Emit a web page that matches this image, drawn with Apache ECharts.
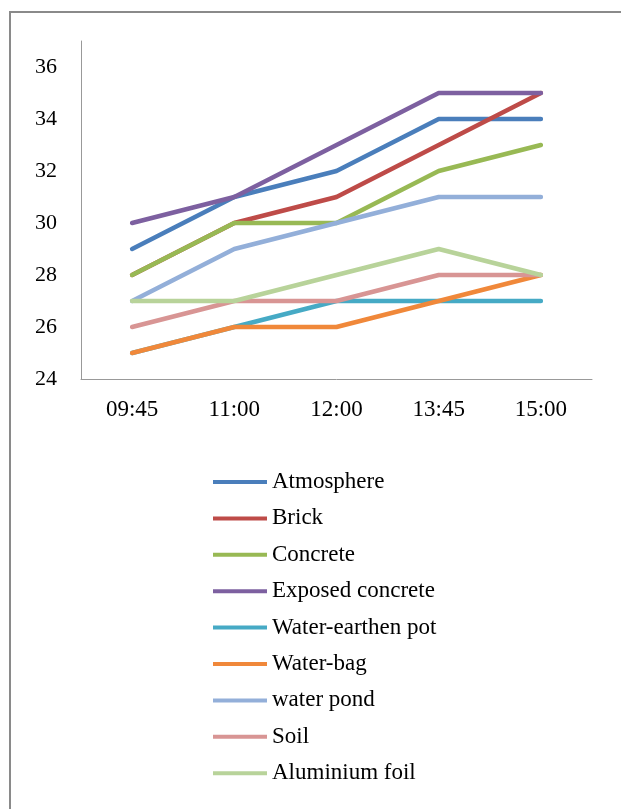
<!DOCTYPE html>
<html>
<head>
<meta charset="utf-8">
<script src="https://cdn.jsdelivr.net/npm/echarts@6/dist/echarts.min.js"></script>
<style>
html,body{margin:0;padding:0;background:#fff;}
#chart{width:621px;height:809px;}
</style>
</head>
<body>
<div id="chart"></div>
<script>
var categories = ['09:45', '11:00', '12:00', '13:45', '15:00'];
var seriesNames = ['Atmosphere', 'Brick', 'Concrete', 'Exposed concrete', 'Water-earthen pot', 'Water-bag', 'water pond', 'Soil', 'Aluminium foil'];
var atmosphere = [29, 31, 32, 34, 34];
var brick = [28, 30, 31, 33, 35];
var concrete = [28, 30, 30, 32, 33];
var exposedConcrete = [30, 31, 33, 35, 35];
var waterEarthenPot = [25, 26, 27, 27, 27];
var waterBag = [25, 26, 26, 27, 28];
var waterPond = [27, 29, 30, 31, 31];
var soil = [26, 27, 27, 28, 28];
var aluminiumFoil = [27, 27, 28, 29, 28];
var yTicks = [24, 26, 28, 30, 32, 34, 36];

var values = [atmosphere, brick, concrete, exposedConcrete, waterEarthenPot, waterBag, waterPond, soil, aluminiumFoil];
var colors = ['#4A7EBB', '#BE4B48', '#98B954', '#7D60A0', '#46AAC5', '#F0883A', '#93AFD9', '#D89594', '#B8D39A'];
var font = '"Liberation Serif", "Times New Roman", serif';

var chart = echarts.init(document.getElementById('chart'));
chart.setOption({
  animation: false,
  backgroundColor: '#fff',
  color: colors,
  graphic: [{
    type: 'rect',
    shape: {x: 10, y: 12, width: 700, height: 900},
    style: {fill: 'none', stroke: '#8a8a8a', lineWidth: 2},
    silent: true
  }],
  grid: {left: 81, top: 41, right: 29, bottom: 430},
  xAxis: {
    type: 'category',
    data: categories,
    boundaryGap: true,
    axisLine: {lineStyle: {color: '#999', width: 1}},
    axisTick: {show: false},
    axisLabel: {color: '#000', fontFamily: font, fontSize: 23, margin: 19}
  },
  yAxis: {
    type: 'value',
    min: yTicks[0],
    max: 37,
    interval: 2,
    splitLine: {show: false},
    axisLine: {show: true, lineStyle: {color: '#999', width: 1}},
    axisTick: {show: false},
    axisLabel: {color: '#000', fontFamily: font, fontSize: 22, margin: 24, showMaxLabel: false}
  },
  legend: {
    orient: 'vertical',
    left: 213,
    top: 470,
    padding: 0,
    icon: 'rect',
    itemWidth: 54,
    itemHeight: 4,
    itemGap: 12.4,
    textStyle: {color: '#000', fontFamily: font, fontSize: 23, lineHeight: 24},
    data: seriesNames
  },
  series: seriesNames.map(function (name, i) {
    return {
      name: name,
      type: 'line',
      data: values[i],
      symbol: 'none',
      lineStyle: {width: 4.5, color: colors[i], cap: 'round', join: 'round'},
      itemStyle: {color: colors[i]}
    };
  })
});
</script>
</body>
</html>
